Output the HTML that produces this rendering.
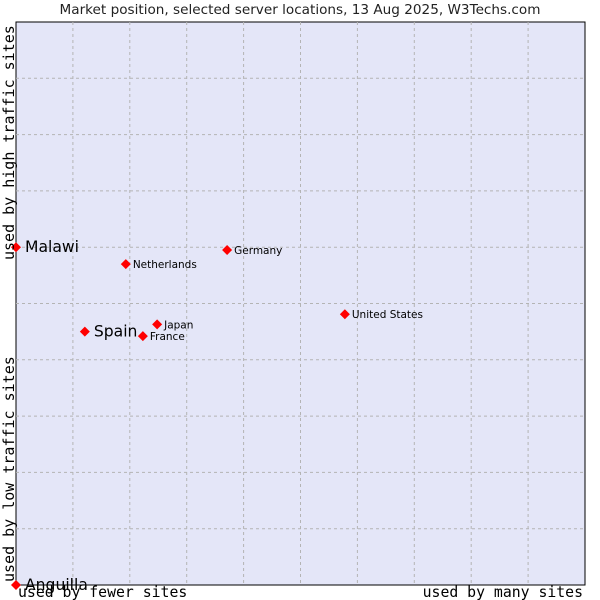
<!DOCTYPE html>
<html><head><meta charset="utf-8"><style>
body{margin:0;background:#fff;width:600px;height:600px;overflow:hidden}
svg{display:block}
</style></head><body>
<svg id="chart" width="600" height="600" xmlns="http://www.w3.org/2000/svg">
<text x="300" y="14" text-anchor="middle" font-family="DejaVu Sans, sans-serif" font-size="13.6" fill="#222">Market position, selected server locations, 13 Aug 2025, W3Techs.com</text>
<rect x="16" y="22" width="569" height="563" fill="#e4e6f8" stroke="#000" stroke-width="1"/>
<g id="grid"></g>
<g id="points"></g>
<text transform="translate(14,260) rotate(-90)" font-family="DejaVu Sans Mono, Liberation Mono, monospace" font-size="15" fill="#000">used by high traffic sites</text>
<text transform="translate(14,582) rotate(-90)" font-family="DejaVu Sans Mono, Liberation Mono, monospace" font-size="15" fill="#000">used by low traffic sites</text>
<text x="18" y="597" font-family="DejaVu Sans Mono, Liberation Mono, monospace" font-size="14.8" fill="#000">used by fewer sites</text>
<text x="583" y="597" text-anchor="end" font-family="DejaVu Sans Mono, Liberation Mono, monospace" font-size="14.8" fill="#000">used by many sites</text>
</svg>
<script>
const names=["Malawi","Netherlands","Germany","United States","Spain","Japan","France","Anguilla"];
const xs=[0,19.3,37.1,57.8,12.1,24.8,22.3,0];
const ys=[60,57,59.5,48.1,45.0,46.3,44.2,0];
const big=[true,false,false,false,true,false,false,true];
const L=16,T=22,W=569,H=563;
const sx=v=>L+v/100*W, sy=v=>T+H-v/100*H;
const NS="http://www.w3.org/2000/svg";
const g=document.getElementById('grid'), p=document.getElementById('points');
for(let i=1;i<10;i++){
 const a=document.createElementNS(NS,'line');
 
 
 a.setAttribute('x1',sx(i*10));a.setAttribute('x2',sx(i*10));a.setAttribute('y1',T);a.setAttribute('y2',T+H);
 a.setAttribute('stroke','#b4b4b4');a.setAttribute('stroke-dasharray','3,3');g.appendChild(a);
 const b=document.createElementNS(NS,'line');
 
 
 b.setAttribute('y1',sy(i*10));b.setAttribute('y2',sy(i*10));b.setAttribute('x1',L);b.setAttribute('x2',L+W);
 b.setAttribute('stroke','#b4b4b4');b.setAttribute('stroke-dasharray','3,3');g.appendChild(b);
}
names.forEach((n,i)=>{
 const x=sx(xs[i]),y=sy(ys[i]);
 const m=document.createElementNS(NS,'polygon');
 
 
 m.setAttribute('points',`${x},${y-5} ${x+5},${y} ${x},${y+5} ${x-5},${y}`);
 m.setAttribute('fill','#f00');p.appendChild(m);
 const t=document.createElementNS(NS,'text');
 
 
 t.setAttribute('x',x+(big[i]?9:7));t.setAttribute('y',y+(big[i]?5:4));
 t.setAttribute('font-family','DejaVu Sans, sans-serif');
 t.setAttribute('font-size',big[i]?15.6:10.5);t.setAttribute('fill','#000');
 t.textContent=n;p.appendChild(t);
});
</script>
</body></html>
